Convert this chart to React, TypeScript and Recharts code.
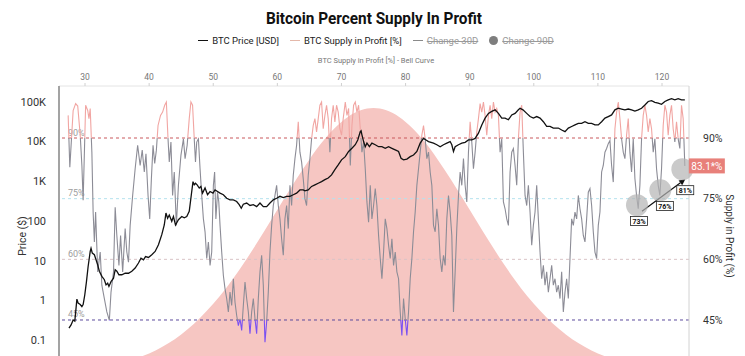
import {
  ComposedChart,
  Line,
  Area,
  XAxis,
  YAxis,
  ReferenceLine,
  ReferenceDot,
} from "recharts";

// bell curve (top axis, supply in profit %)
const bellPct = [
  27, 29, 31, 33, 35, 37, 39, 41, 43, 45, 47, 49, 51, 53, 55, 57, 59, 61, 63, 65, 67, 69, 71, 73, 75,
  77, 79, 81, 83, 85, 87, 89, 91, 93, 95, 97, 99, 101, 103, 105, 107, 109, 111, 113, 115, 117, 119, 121, 123,
];
const bellDensity = [
  0.18, 0.27, 0.4, 0.58, 0.82, 1.15, 1.59, 2.15, 2.86, 3.74, 4.81, 6.08, 7.54, 9.21, 11.04, 13.02, 15.08,
  17.18, 19.22, 21.14, 22.86, 24.28, 25.36, 26.02, 26.25, 26.02, 25.36, 24.28, 22.86, 21.14, 19.22, 17.18,
  15.08, 13.02, 11.04, 9.21, 7.54, 6.08, 4.81, 3.74, 2.86, 2.15, 1.59, 1.15, 0.82, 0.58, 0.4, 0.27, 0.18,
];

// BTC supply in profit [%]
const supplyDates = [
  2010.9, 2010.94, 2011.02, 2011.08, 2011.13, 2011.19, 2011.23, 2011.26, 2011.32, 2011.37, 2011.4, 2011.43,
  2011.47, 2011.5, 2011.53, 2011.56, 2011.61, 2011.67, 2011.71, 2011.77, 2011.83, 2011.89, 2011.93, 2011.99,
  2012.03, 2012.07, 2012.12, 2012.16, 2012.21, 2012.27, 2012.31, 2012.35, 2012.39, 2012.45, 2012.51, 2012.57,
  2012.63, 2012.68, 2012.73, 2012.77, 2012.82, 2012.86, 2012.9, 2012.94, 2012.98, 2013.02, 2013.06, 2013.12,
  2013.17, 2013.22, 2013.26, 2013.3, 2013.33, 2013.37, 2013.41, 2013.45, 2013.5, 2013.55, 2013.61, 2013.67,
  2013.71, 2013.76, 2013.81, 2013.85, 2013.89, 2013.93, 2013.96, 2013.99, 2014.03, 2014.07, 2014.11, 2014.15,
  2014.19, 2014.23, 2014.27, 2014.31, 2014.35, 2014.39, 2014.42, 2014.45, 2014.49, 2014.52, 2014.55, 2014.59,
  2014.63, 2014.67, 2014.71, 2014.75, 2014.79, 2014.83, 2014.87, 2014.91, 2014.95, 2014.99, 2015.03, 2015.07,
  2015.11, 2015.15, 2015.19, 2015.23, 2015.27, 2015.31, 2015.35, 2015.39, 2015.43, 2015.47, 2015.51, 2015.55,
  2015.59, 2015.63, 2015.67, 2015.71, 2015.75, 2015.79, 2015.83, 2015.87, 2015.91, 2015.95, 2015.99, 2016.03,
  2016.07, 2016.11, 2016.15, 2016.19, 2016.23, 2016.27, 2016.31, 2016.35, 2016.39, 2016.43, 2016.47, 2016.51,
  2016.55, 2016.59, 2016.63, 2016.67, 2016.71, 2016.75, 2016.79, 2016.83, 2016.87, 2016.91, 2016.95, 2016.99,
  2017.03, 2017.07, 2017.11, 2017.15, 2017.19, 2017.23, 2017.27, 2017.31, 2017.35, 2017.39, 2017.43, 2017.47,
  2017.51, 2017.56, 2017.6, 2017.64, 2017.68, 2017.72, 2017.76, 2017.8, 2017.84, 2017.88, 2017.92, 2017.96,
  2018.0, 2018.04, 2018.08, 2018.12, 2018.16, 2018.2, 2018.24, 2018.28, 2018.32, 2018.36, 2018.4, 2018.44,
  2018.48, 2018.52, 2018.56, 2018.6, 2018.64, 2018.68, 2018.72, 2018.76, 2018.8, 2018.84, 2018.88, 2018.92,
  2018.96, 2019.0, 2019.04, 2019.08, 2019.12, 2019.16, 2019.2, 2019.24, 2019.28, 2019.32, 2019.36, 2019.4,
  2019.44, 2019.48, 2019.52, 2019.56, 2019.6, 2019.64, 2019.68, 2019.72, 2019.76, 2019.8, 2019.84, 2019.88,
  2019.92, 2019.96, 2020.0, 2020.04, 2020.08, 2020.12, 2020.16, 2020.2, 2020.24, 2020.28, 2020.32, 2020.36,
  2020.4, 2020.44, 2020.48, 2020.52, 2020.56, 2020.6, 2020.64, 2020.68, 2020.72, 2020.76, 2020.8, 2020.84,
  2020.88, 2020.92, 2020.96, 2021.0, 2021.04, 2021.08, 2021.12, 2021.16, 2021.2, 2021.24, 2021.28, 2021.32,
  2021.36, 2021.4, 2021.44, 2021.48, 2021.52, 2021.56, 2021.6, 2021.64, 2021.68, 2021.72, 2021.76, 2021.8,
  2021.84, 2021.88, 2021.92, 2021.96, 2022.0, 2022.04, 2022.08, 2022.12, 2022.16, 2022.2, 2022.24, 2022.28,
  2022.32, 2022.36, 2022.4, 2022.44, 2022.48, 2022.52, 2022.56, 2022.6, 2022.64, 2022.68, 2022.72, 2022.76,
  2022.8, 2022.84, 2022.88, 2022.92, 2022.96, 2023.0, 2023.04, 2023.08, 2023.12, 2023.16, 2023.2, 2023.24,
  2023.28, 2023.32, 2023.36, 2023.4, 2023.44, 2023.48, 2023.52, 2023.56, 2023.6, 2023.64, 2023.68, 2023.72,
  2023.76, 2023.8, 2023.84, 2023.88, 2023.92, 2023.96, 2024.0, 2024.04, 2024.08, 2024.12, 2024.16, 2024.2,
  2024.24, 2024.28, 2024.32, 2024.36, 2024.4, 2024.44, 2024.48, 2024.52, 2024.56, 2024.6, 2024.64, 2024.68,
  2024.72, 2024.76, 2024.8, 2024.84, 2024.88, 2024.92, 2024.96, 2025.0, 2025.04, 2025.08, 2025.12, 2025.16,
  2025.2, 2025.24, 2025.28, 2025.32, 2025.36, 2025.4, 2025.44, 2025.48, 2025.52, 2025.56, 2025.6, 2025.64,
  2025.68, 2025.72,
];
const supplyPct = [
  95.6, 82.8, 96.8, 98.5, 97.9, 90.7, 83.2, 74.6, 98.1, 96.8, 94.8, 97.3,
  86.5, 71.7, 64.3, 71.7, 56.9, 61.8, 53.6, 50.3, 47.0, 44.9, 51.9, 56.9,
  72.9, 65.9, 58.5, 65.9, 56.9, 67.6, 61.8, 59.3, 68.4, 75.8, 82.4, 88.2,
  83.2, 87.0, 81.6, 86.1, 75.8, 70.0, 79.9, 88.2, 83.7, 87.0, 93.1, 95.6,
  96.4, 98.1, 98.9, 89.8, 84.1, 89.0, 75.8, 81.6, 68.4, 78.3, 85.7, 89.8,
  84.9, 88.2, 94.8, 98.9, 98.1, 89.8, 84.1, 89.0, 89.8, 82.4, 75.8, 70.0,
  66.8, 60.2, 64.3, 58.5, 61.8, 78.3, 81.6, 70.0, 76.6, 74.2, 68.4, 61.8,
  56.0, 52.7, 50.3, 47.0, 51.9, 48.6, 55.2, 49.4, 46.1, 43.6, 45.3, 42.4,
  48.6, 54.4, 50.3, 47.0, 41.6, 47.0, 50.3, 45.3, 41.6, 50.3, 56.9, 61.0,
  53.6, 39.5, 44.5, 51.9, 61.8, 68.4, 73.3, 75.8, 78.3, 73.3, 70.0, 65.1,
  61.0, 70.0, 73.3, 67.6, 78.3, 73.3, 80.8, 84.9, 88.2, 94.0, 86.5, 84.1,
  79.9, 75.0, 73.3, 80.8, 84.9, 89.8, 93.1, 94.8, 91.5, 94.8, 98.1, 98.9,
  92.3, 95.6, 98.1, 94.8, 86.5, 94.8, 98.1, 94.0, 98.1, 96.4, 92.3, 90.7,
  94.8, 98.9, 95.6, 97.3, 83.2, 93.1, 98.1, 98.9, 96.4, 98.1, 92.3, 86.5,
  89.0, 82.4, 74.2, 69.2, 78.3, 70.0, 73.3, 77.5, 73.3, 65.9, 60.2, 55.2,
  61.8, 70.0, 67.6, 63.5, 60.2, 65.1, 58.5, 61.8, 56.9, 55.2, 47.0, 41.2,
  50.3, 45.3, 41.2, 47.0, 55.2, 60.2, 66.8, 71.7, 78.3, 82.4, 86.5, 90.7,
  93.1, 89.8, 84.9, 86.5, 81.6, 78.3, 68.4, 66.8, 72.5, 68.4, 60.2, 56.9,
  61.0, 58.5, 70.0, 75.8, 71.7, 65.9, 47.0, 56.9, 67.6, 75.8, 81.6, 78.3,
  84.9, 78.3, 74.2, 86.5, 94.0, 89.0, 82.4, 86.5, 91.5, 94.8, 98.5, 96.4,
  98.9, 95.6, 90.7, 95.6, 98.1, 94.8, 98.9, 96.4, 97.3, 95.6, 86.5, 89.8,
  74.2, 72.5, 70.0, 68.4, 81.6, 86.5, 87.4, 83.2, 78.3, 89.8, 96.4, 98.1,
  86.5, 75.8, 73.3, 78.3, 71.7, 63.5, 68.4, 71.7, 78.3, 70.0, 61.8, 55.2,
  58.5, 53.6, 56.9, 51.9, 55.2, 58.5, 53.6, 55.2, 51.9, 53.6, 50.3, 56.9,
  47.0, 51.9, 55.2, 50.3, 60.2, 70.0, 68.4, 71.7, 70.0, 75.8, 72.5, 70.0,
  65.9, 64.3, 70.0, 76.6, 77.5, 73.3, 66.8, 61.8, 60.2, 68.4, 71.7, 81.6,
  83.2, 86.5, 87.4, 88.6, 89.4, 83.2, 79.1, 92.3, 96.4, 98.9, 94.8, 89.8,
  86.5, 84.9, 90.7, 94.8, 86.5, 81.6, 89.8, 80.0, 75.8, 72.5, 78.3, 89.8,
  95.6, 98.1, 95.6, 91.5, 94.8, 92.3, 86.5, 89.8, 82.4, 78.3, 75.8, 82.4,
  93.1, 98.1, 96.4, 90.7, 95.6, 98.1, 92.3, 89.0, 94.0, 89.8, 87.4, 98.1,
  94.8, 83.1,
];

// BTC price [USD]
const priceDates = [
  2010.92, 2010.97, 2011.02, 2011.06, 2011.11, 2011.14, 2011.19, 2011.23, 2011.26, 2011.3, 2011.34, 2011.38,
  2011.43, 2011.45, 2011.48, 2011.53, 2011.57, 2011.61, 2011.65, 2011.71, 2011.77, 2011.81, 2011.85, 2011.88,
  2011.93, 2011.99, 2012.03, 2012.07, 2012.12, 2012.19, 2012.27, 2012.35, 2012.43, 2012.51, 2012.59, 2012.65,
  2012.71, 2012.76, 2012.83, 2012.91, 2012.99, 2013.07, 2013.15, 2013.21, 2013.25, 2013.29, 2013.33, 2013.39,
  2013.43, 2013.48, 2013.55, 2013.63, 2013.69, 2013.75, 2013.81, 2013.86, 2013.9, 2013.93, 2013.96, 2014.0,
  2014.05, 2014.09, 2014.13, 2014.19, 2014.25, 2014.31, 2014.38, 2014.43, 2014.49, 2014.55, 2014.63, 2014.71,
  2014.79, 2014.87, 2014.95, 2015.01, 2015.06, 2015.11, 2015.19, 2015.27, 2015.35, 2015.43, 2015.51, 2015.59,
  2015.67, 2015.75, 2015.83, 2015.91, 2015.99, 2016.07, 2016.15, 2016.23, 2016.31, 2016.39, 2016.47, 2016.55,
  2016.59, 2016.67, 2016.75, 2016.83, 2016.91, 2016.99, 2017.07, 2017.15, 2017.23, 2017.31, 2017.39, 2017.47,
  2017.56, 2017.64, 2017.72, 2017.8, 2017.86, 2017.92, 2017.94, 2017.96, 2018.0, 2018.04, 2018.08, 2018.14,
  2018.2, 2018.28, 2018.36, 2018.44, 2018.52, 2018.6, 2018.68, 2018.76, 2018.84, 2018.9, 2018.96, 2019.04,
  2019.12, 2019.2, 2019.28, 2019.36, 2019.44, 2019.5, 2019.56, 2019.68, 2019.76, 2019.84, 2019.92, 2020.0,
  2020.08, 2020.12, 2020.16, 2020.2, 2020.28, 2020.36, 2020.44, 2020.52, 2020.6, 2020.68, 2020.76, 2020.84,
  2020.92, 2021.0, 2021.08, 2021.16, 2021.24, 2021.32, 2021.4, 2021.48, 2021.56, 2021.64, 2021.72, 2021.76,
  2021.83, 2021.92, 2022.0, 2022.08, 2022.16, 2022.24, 2022.32, 2022.4, 2022.48, 2022.56, 2022.6, 2022.68,
  2022.76, 2022.84, 2022.92, 2023.0, 2023.08, 2023.16, 2023.24, 2023.32, 2023.4, 2023.48, 2023.56, 2023.64,
  2023.72, 2023.8, 2023.88, 2023.96, 2024.04, 2024.12, 2024.2, 2024.28, 2024.36, 2024.44, 2024.52, 2024.6,
  2024.68, 2024.76, 2024.84, 2024.92, 2025.0, 2025.08, 2025.16, 2025.24, 2025.32, 2025.4, 2025.48, 2025.56,
  2025.64, 2025.72,
];
const priceUsd = [
  0.2, 0.24, 0.32, 0.3, 1.07, 0.85, 0.78, 0.69, 0.78, 1.38, 2.95, 7.1,
  17, 20.4, 15.5, 14.1, 10.5, 7.8, 5.4, 4.0, 3.3, 2.45, 2.7, 2.24,
  2.95, 3.6, 5.9, 5.4, 4.4, 4.4, 4.8, 4.8, 5.4, 6.5, 8.7, 11.5,
  10.5, 12.6, 12.0, 14.1, 17, 25, 45, 79, 158, 117, 141, 98,
  129, 79, 107, 129, 120, 129, 174, 457, 977, 813, 891, 813,
  676, 741, 501, 676, 457, 550, 501, 603, 550, 501, 457, 372,
  339, 339, 309, 257, 209, 263, 282, 245, 257, 229, 282, 229,
  229, 282, 339, 372, 417, 389, 417, 417, 457, 501, 603, 603,
  575, 603, 741, 813, 891, 977, 1096, 1202, 1445, 1950, 2570, 3467,
  4170, 5620, 6760, 8320, 10970, 17780, 18600, 14790, 10000, 7410, 9120, 7410,
  9120, 8320, 7410, 7410, 6760, 7410, 6760, 6170, 5620, 3800, 3470, 3630,
  4170, 4570, 5620, 9120, 12020, 10970, 10000, 9120, 8320, 7410, 8320, 9120,
  10000, 8320, 5620, 7410, 8320, 9120, 9550, 10970, 10970, 12020, 16220, 26300,
  38900, 51300, 57500, 63100, 51300, 38900, 38900, 35500, 46800, 51300, 63100, 69200,
  63100, 51300, 42700, 38900, 42700, 38900, 31600, 24000, 24000, 21900, 21900, 21900,
  19500, 17800, 21900, 24000, 26300, 28800, 28800, 31600, 28800, 28800, 26300, 26300,
  31600, 38900, 42700, 46800, 63100, 69200, 66100, 63100, 66100, 63100, 58900, 63100,
  69200, 83200, 102300, 107200, 97700, 93300, 87100, 102300, 112200, 120200, 112200, 120200,
  112200, 112200,
];

const priceTicks = [0.1, 1, 10, 100, 1000, 10000, 100000];
const pctTicks = [45, 60, 75, 90];
const bellTicks = [30, 40, 50, 60, 70, 80, 90, 100, 110, 120];
const bandLevels = [90, 75, 60, 45];

// hand-drawn annotation (lows of recent dips)
const dipDates = [2024.57, 2025.13, 2025.66];
const dipPct = [73.4, 77.1, 82.3];
const dipTagDates = [2024.62, 2025.24, 2025.73];
const dipTagPct = [69.5, 73.2, 77.1];
const dipLabels = ["73%", "76%", "81%"];
const arrowDates = [2024.69, 2025.73];
const arrowPct = [71.9, 79.8];
const latestDate = 2025.72;
const latestPct = 83.1;

const bellRows = bellPct.map((pct, i) => ({ pct, d: bellDensity[i] }));
const supplyRows = supplyDates.map((t, i) => ({ t, v: supplyPct[i] }));
const priceRows = priceDates.map((t, i) => ({ t, p: priceUsd[i] }));

const PCT_DOMAIN: [number, number] = [32.14, 102.86];
const PLOT_TOP = 86;
const PLOT_H = 286;
const yOfPct = (p: number) =>
  PLOT_TOP + ((PCT_DOMAIN[1] - p) / (PCT_DOMAIN[1] - PCT_DOMAIN[0])) * PLOT_H;

const bandColors = ["#c9585c", "#b5e2ee", "#d9c3c6", "#5c4a9c"];
const FONT = "Roboto, 'Noto Sans', sans-serif";

const fmtPrice = (v: number) => (v >= 1000 ? `${v / 1000}K` : `${v}`);

const bandLabel = (text: string) => (props: any) => {
  const vb = props.viewBox || {};
  return (
    <text x={vb.x + 9} y={vb.y - 2.5} fontSize={9} fill="#9d9d9d" fontFamily={FONT}>
      {text}
    </text>
  );
};

// red value tag sitting just outside the plot, right of the last point
const latestTag = (props: any) => {
  const x = props.cx + 4;
  return (
    <g>
      <rect x={x} y={props.cy - 7.5} width={36} height={15} fill="#e8807a" />
      <text x={x + 18} y={props.cy + 3.6} textAnchor="middle" fontSize={10} fill="#fff" fontFamily={FONT}>
        {`${latestPct}*%`}
      </text>
    </g>
  );
};

const dipTag = (text: string) => (props: any) => (
  <g>
    <rect x={props.cx - 8.5} y={props.cy - 4.5} width={17} height={9} fill="#fff" stroke="#222" strokeWidth={0.8} />
    <text x={props.cx} y={props.cy + 2.6} textAnchor="middle" fontSize={7} fontWeight={700} fill="#111" fontFamily={FONT}>
      {text}
    </text>
  </g>
);

const arrowShape = (props: any) => {
  const { x1, y1, x2, y2 } = props;
  const a = Math.atan2(y2 - y1, x2 - x1);
  const L = 6;
  const W = 3;
  const bx = x2 - L * Math.cos(a);
  const by = y2 - L * Math.sin(a);
  const pts = `${x2},${y2} ${bx + W * Math.sin(a)},${by - W * Math.cos(a)} ${bx - W * Math.sin(a)},${by + W * Math.cos(a)}`;
  return (
    <g>
      <line x1={x1} y1={y1} x2={bx} y2={by} stroke="#111" strokeWidth={1.2} />
      <polygon points={pts} fill="#111" />
    </g>
  );
};

function LegendItem({ color, text, struck, dot }: { color: string; text: string; struck?: boolean; dot?: boolean }) {
  return (
    <span style={{ display: "inline-flex", alignItems: "center", gap: 4 }}>
      {dot ? (
        <span style={{ width: 9, height: 9, borderRadius: "50%", background: color, display: "inline-block" }} />
      ) : (
        <span style={{ width: 10, height: 1.5, background: color, display: "inline-block" }} />
      )}
      <span style={{ color: struck ? "#9a9a9a" : "#222", textDecoration: struck ? "line-through" : "none" }}>{text}</span>
    </span>
  );
}

export default function App() {
  return (
    <div style={{ position: "absolute", left: 0, top: 0, width: 745, height: 380, background: "#fff", fontFamily: FONT }}>
      <svg width={745} height={30} style={{ position: "absolute", left: 0, top: 0 }}>
        <text
          x={374}
          y={24}
          textAnchor="middle"
          fontSize={16}
          fontWeight={700}
          fill="#111"
          textLength={216}
          lengthAdjust="spacingAndGlyphs"
          fontFamily={FONT}
        >
          Bitcoin Percent Supply In Profit
        </text>
      </svg>
      <div
        style={{
          position: "absolute",
          top: 35,
          left: 0,
          width: 752,
          display: "flex",
          justifyContent: "center",
          gap: 11,
          fontSize: 9.5,
        }}
      >
        <LegendItem color="#111" text="BTC Price [USD]" />
        <LegendItem color="#e4b8aa" text="BTC Supply in Profit [%]" />
        <LegendItem color="#8a8a8a" text="Change 30D" struck />
        <LegendItem color="#7e7e7e" text="Change 90D" struck dot />
      </div>
      <div
        style={{
          position: "absolute",
          top: 56,
          left: 0,
          width: 752,
          textAlign: "center",
          fontSize: 7.5,
          color: "#777",
        }}
      >
        BTC Supply in Profit [%] - Bell Curve
      </div>
      <div style={{ position: "absolute", left: 0, top: 0 }}>
        <ComposedChart width={745} height={380} margin={{ top: 66, right: 11, bottom: 8, left: 0 }}>
          <defs>
            <linearGradient id="supplyStroke" gradientUnits="userSpaceOnUse" x1="0" y1={yOfPct(90)} x2="0" y2={yOfPct(45)}>
              <stop offset="0" stopColor="#f1a5a2" />
              <stop offset="0" stopColor="#8c8c96" />
              <stop offset="1" stopColor="#8c8c96" />
              <stop offset="1" stopColor="#7a50f2" />
            </linearGradient>
          </defs>
          <XAxis
            xAxisId="bell"
            orientation="top"
            type="number"
            dataKey="pct"
            domain={[25.94, 124.21]}
            allowDataOverflow
            ticks={bellTicks}
            height={20}
            tickSize={3}
            tickMargin={3}
            tick={{ fontSize: 8.5, fill: "#777", fontFamily: FONT }}
            axisLine={{ stroke: "#e4e4e4" }}
            tickLine={{ stroke: "#d0d0d0" }}
          />
          <XAxis xAxisId="time" type="number" dataKey="t" domain={[2010.68, 2025.82]} allowDataOverflow hide height={0} />
          <YAxis
            yAxisId="price"
            orientation="left"
            scale="log"
            domain={[0.0156, 251189]}
            allowDataOverflow
            ticks={priceTicks}
            tickFormatter={fmtPrice}
            width={59}
            axisLine={{ stroke: "#a3a3a3", strokeWidth: 2 }}
            tickLine={false}
            tickMargin={7}
            tick={{ fontSize: 11, fill: "#333", fontFamily: FONT }}
            label={(props: any) => {
              const vb = props.viewBox || {};
              const x = vb.x + 22;
              const y = vb.y + 150;
              return (
                <text x={x} y={y} transform={`rotate(-90, ${x}, ${y})`} textAnchor="middle" dominantBaseline="central" fontSize={10.5} fill="#333" fontFamily={FONT}>
                  Price ($)
                </text>
              );
            }}
          />
          <YAxis
            yAxisId="pct"
            orientation="right"
            domain={PCT_DOMAIN}
            allowDataOverflow
            ticks={pctTicks}
            tickFormatter={(v: number) => `${v}%`}
            width={45}
            axisLine={{ stroke: "#d2d2d2" }}
            tickLine={false}
            tickMargin={8}
            tick={{ fontSize: 10.5, fill: "#333", fontFamily: FONT }}
            label={(props: any) => {
              const vb = props.viewBox || {};
              const x = vb.x + 40;
              const y = vb.y + 150;
              return (
                <text x={x} y={y} transform={`rotate(90, ${x}, ${y})`} textAnchor="middle" dominantBaseline="central" fontSize={10} fill="#333" fontFamily={FONT}>
                  Supply in Profit (%)
                </text>
              );
            }}
          />
          <YAxis yAxisId="bell" orientation="left" domain={[0, 28.44]} allowDataOverflow hide width={0} />

          <Area
            data={bellRows}
            xAxisId="bell"
            yAxisId="bell"
            dataKey="d"
            type="monotone"
            fill="#f6c6c2"
            fillOpacity={1}
            stroke="none"
            isAnimationActive={false}
          />
          <text x={372} y={238} textAnchor="middle" fontSize={27} fill="#8a7070" fillOpacity={0.16} fontFamily={FONT}>
            CryptoQuant
          </text>

          {bandLevels.map((lv, i) => (
            <ReferenceLine
              key={lv}
              xAxisId="time"
              yAxisId="pct"
              y={lv}
              stroke={bandColors[i]}
              strokeDasharray="3 3"
              strokeWidth={1}
              label={bandLabel(`${lv}%`)}
            />
          ))}

          <Line
            data={supplyRows}
            xAxisId="time"
            yAxisId="pct"
            dataKey="v"
            type="linear"
            stroke="url(#supplyStroke)"
            strokeWidth={1.1}
            dot={false}
            isAnimationActive={false}
          />
          <Line
            data={priceRows}
            xAxisId="time"
            yAxisId="price"
            dataKey="p"
            type="linear"
            stroke="#111"
            strokeWidth={1.3}
            dot={false}
            isAnimationActive={false}
          />

          {dipDates.map((d, i) => (
            <ReferenceDot
              key={`c${i}`}
              xAxisId="time"
              yAxisId="pct"
              x={d}
              y={dipPct[i]}
              r={11}
              fill="#b4b4b4"
              fillOpacity={0.7}
              stroke="none"
            />
          ))}
          <ReferenceLine
            xAxisId="time"
            yAxisId="pct"
            segment={[
              { x: arrowDates[0], y: arrowPct[0] },
              { x: arrowDates[1], y: arrowPct[1] },
            ]}
            shape={arrowShape}
          />
          {dipTagDates.map((d, i) => (
            <ReferenceDot
              key={`t${i}`}
              xAxisId="time"
              yAxisId="pct"
              x={d}
              y={dipTagPct[i]}
              r={1}
              shape={dipTag(dipLabels[i])}
            />
          ))}
          <ReferenceDot
            xAxisId="time"
            yAxisId="pct"
            x={latestDate}
            y={latestPct}
            r={1}
            shape={latestTag}
          />
        </ComposedChart>
      </div>
    </div>
  );
}
